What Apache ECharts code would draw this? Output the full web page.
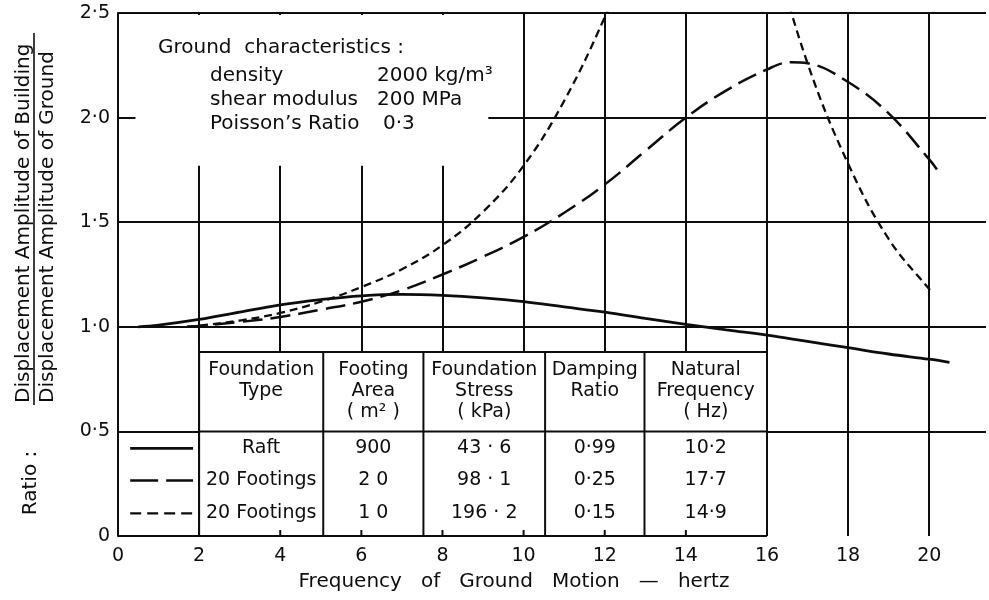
<!DOCTYPE html>
<html>
<head>
<meta charset="utf-8">
<script src="https://cdn.jsdelivr.net/npm/echarts@6/dist/echarts.min.js"></script>
<style>
  html, body { margin: 0; padding: 0; background: #fff; }
  #chart { width: 989px; height: 600px; }
</style>
</head>
<body>
<div id="chart"></div>
<script>
// --- data ---
// raft (solid)
var raftFreq  = [0.5, 1, 2, 3, 4, 5, 6, 7, 8, 9, 10, 11, 12, 13, 14, 15, 16, 17, 18, 19, 20, 20.5];
var raftRatio = [1.0, 1.008, 1.035, 1.07, 1.105, 1.13, 1.148, 1.155, 1.15, 1.138, 1.12, 1.095, 1.07, 1.04, 1.012, 0.985, 0.96, 0.93, 0.90, 0.87, 0.845, 0.83];
// 20 footings, 20 m2 (long dash)
var footA_Freq  = [1.7, 2, 3, 4, 5, 6, 7, 8, 9, 10, 11, 12, 13, 14, 15, 16, 16.6, 17, 18, 19, 20, 20.2];
var footA_Ratio = [1.0, 1.004, 1.023, 1.047, 1.082, 1.12, 1.175, 1.25, 1.335, 1.43, 1.545, 1.68, 1.84, 2.0, 2.13, 2.23, 2.265, 2.26, 2.17, 2.02, 1.80, 1.75];
// 20 footings, 10 m2 (short dash) - peak runs off the top of the chart
var footB_Freq  = [1.7, 2, 3, 4, 5, 6, 7, 8, 9, 10, 11, 12, 13, 14, 14.9, 16, 17, 18, 19, 20, 20.1];
var footB_Ratio = [1.0, 1.005, 1.03, 1.066, 1.12, 1.19, 1.275, 1.39, 1.55, 1.77, 2.08, 2.48, 2.95, 3.4, 3.55, 2.9, 2.26, 1.78, 1.42, 1.18, 1.16];

var xTickLabels = ['0', '2', '4', '6', '8', '10', '12', '14', '16', '18', '20'];
var yTickLabels = ['0', '0·5', '1·0', '1·5', '2·0', '2·5'];

// table
var tableHead = ['Foundation\nType', 'Footing\nArea\n( m² )', 'Foundation\nStress\n( kPa)', 'Damping\nRatio', 'Natural\nFrequency\n( Hz)'];
var foundationType = ['Raft', '20 Footings', '20 Footings'];
var footingArea = ['900', '2 0', '1 0'];
var foundationStress = ['43 · 6', '98 · 1', '196 · 2'];
var dampingRatio = ['0·99', '0·25', '0·15'];
var naturalFreq = ['10·2', '17·7', '14·9'];

var groundLines = [
  ['density', '2000 kg/m³'],
  ['shear modulus', '200 MPa'],
  ['Poisson’s Ratio', '0·3']
];

var FONT = '"DejaVu Sans", sans-serif';
var INK = '#0d0d0d';
var DASH_LONG = [20, 8];
var DASH_SHORT = [8, 5];

function pairs(xs, ys) {
  return xs.map(function (x, i) { return [x, ys[i]]; });
}

var chart = echarts.init(document.getElementById('chart'));

chart.setOption({
  animation: false,
  backgroundColor: '#fff',
  grid: { left: 118, right: 0, top: 13, bottom: 64 },
  xAxis: {
    type: 'value', min: 0, max: 21.4, interval: 2,
    axisLine: { show: false },
    axisTick: { show: false },
    axisLabel: {
      color: INK, fontSize: 19, fontFamily: FONT, margin: 11,
      formatter: function (v) { return v % 2 === 0 ? (xTickLabels[v / 2] || '') : ''; }
    },
    splitLine: { show: true, showMaxLine: false, lineStyle: { color: INK, width: 2 } }
  },
  yAxis: {
    type: 'value', min: 0, max: 2.5, interval: 0.5,
    axisLine: { show: true, lineStyle: { color: INK, width: 2 } },
    axisTick: { show: false },
    axisLabel: {
      color: INK, fontSize: 19, fontFamily: FONT, margin: 8,
      formatter: function (v) { return yTickLabels[Math.round(v / 0.5)]; }
    },
    splitLine: { show: true, showMinLine: false, lineStyle: { color: INK, width: 2 } }
  },
  series: [
    { type: 'line', data: pairs(raftFreq, raftRatio), smooth: 0.4, showSymbol: false,
      lineStyle: { color: INK, width: 2.8 } },
    { type: 'line', data: pairs(footA_Freq, footA_Ratio), smooth: 0.4, showSymbol: false,
      lineStyle: { color: INK, width: 2.5, type: DASH_LONG } },
    { type: 'line', data: pairs(footB_Freq, footB_Ratio), smooth: 0.4, showSymbol: false,
      lineStyle: { color: INK, width: 2.3, type: DASH_SHORT } }
  ]
});

function px(x, y) { return chart.convertToPixel({ gridIndex: 0 }, [x, y]); }

function line(x1, y1, x2, y2, w, dash) {
  return { type: 'line', z: 11, shape: { x1: x1, y1: y1, x2: x2, y2: y2 },
    style: { stroke: INK, lineWidth: w || 2, lineDash: dash || null } };
}
function text(str, x, y, size, align, opts) {
  var o = { type: 'text', z: 12, x: x, y: y,
    style: { text: str, fill: INK, fontSize: size, fontFamily: FONT,
      textAlign: align || 'left', textVerticalAlign: 'middle', verticalAlign: 'middle' } };
  if (opts) {
    for (var k in opts) {
      if (k === 'style') { for (var s in opts.style) o.style[s] = opts.style[s]; }
      else o[k] = opts[k];
    }
  }
  return o;
}

var g = [];

// blank area behind the ground characteristics note
var boxA = px(0.43, 2.5), boxB = px(9.13, 1.77);
g.push({ type: 'rect', z: 10, shape: { x: boxA[0], y: boxA[1] + 2, width: boxB[0] - boxA[0], height: boxB[1] - boxA[1] - 2 },
  style: { fill: '#fff' } });

g.push(text('Ground  characteristics :', 158, 48, 20));
groundLines.forEach(function (r, i) {
  var y = 76 + i * 24;
  g.push(text(r[0], 210, y, 20));
  g.push(text(r[1], i === 2 ? 383 : 377, y, 20));
});

// table
var tableCols = [2, 5.06, 7.53, 10.53, 12.98, 16];
var tTop = px(2, 0.88)[1], tHead = px(2, 0.5)[1], tBot = px(2, 0)[1];
var tL = px(2, 0)[0], tR = px(16, 0)[0];
g.push({ type: 'rect', z: 10, shape: { x: tL, y: tTop, width: tR - tL, height: tBot - tTop }, style: { fill: '#fff' } });
g.push(line(tL, tTop, tR, tTop));
g.push(line(tL, tHead, tR, tHead));
g.push(line(px(0, 0)[0], tBot, tR, tBot));
tableCols.forEach(function (c) {
  var x = px(c, 0)[0];
  g.push(line(x, tTop, x, tBot));
});
// small x ticks inside the table
[4, 6, 8, 10, 12, 14].forEach(function (v) {
  var x = px(v, 0)[0];
  g.push(line(x, tBot, x, tBot - 6, 2));
});

var cols = [foundationType, footingArea, foundationStress, dampingRatio, naturalFreq];
var rowOff = [17, 49, 82];
for (var c = 0; c < 5; c++) {
  var cx = (px(tableCols[c], 0)[0] + px(tableCols[c + 1], 0)[0]) / 2;
  g.push(text(tableHead[c], cx, tTop + 8, 19, 'center',
    { style: { textVerticalAlign: 'top', verticalAlign: 'top', lineHeight: 21 } }));
  for (var r = 0; r < 3; r++) {
    g.push(text(cols[c][r], cx, tHead + rowOff[r], 19, 'center'));
  }
}

// legend samples
var lx1 = px(0.3, 0)[0], lx2 = px(1.85, 0)[0];
g.push(line(lx1, tHead + rowOff[0], lx2, tHead + rowOff[0], 2.8));
g.push(line(lx1, tHead + rowOff[1], lx2, tHead + rowOff[1], 2.5, [28, 8]));
g.push(line(lx1, tHead + rowOff[2], lx2, tHead + rowOff[2], 2.3, [11, 6]));

// axis titles
g.push(text('Displacement Amplitude of Building', 24, 403, 20, 'left', { rotation: Math.PI / 2 }));
g.push(line(34, 33, 34, 405, 1.6));
g.push(text('Displacement Amplitude of Ground', 48, 403, 20, 'left', { rotation: Math.PI / 2 }));
g.push(text('Ratio :', 31, 483, 20, 'center', { rotation: Math.PI / 2 }));
g.push(text('Frequency   of   Ground   Motion   —   hertz', 514, 582, 20, 'center'));

chart.setOption({ graphic: g });
</script>
</body>
</html>
